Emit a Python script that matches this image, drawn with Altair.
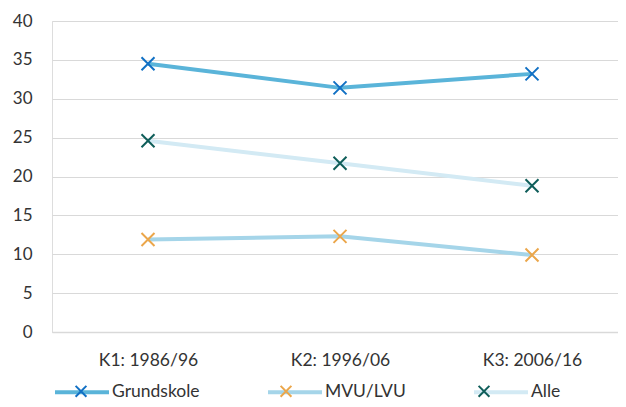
import altair as alt
import pandas as pd

categories = ["K1: 1986/96", "K2: 1996/06", "K3: 2006/16"]
series = ["Grundskole", "MVU/LVU", "Alle"]
grundskole = [34.5, 31.4, 33.2]
mvu_lvu = [11.9, 12.3, 9.9]
alle = [24.6, 21.7, 18.8]

line_colors = ["#5AB4D9", "#A5D5E9", "#D3EAF4"]
marker_colors = ["#1170C4", "#EBA64A", "#0F5E5A"]

rows = []
for name, vals in zip(series, [grundskole, mvu_lvu, alle]):
    for c, v in zip(categories, vals):
        rows.append({"Periode": c, "Serie": name, "Verdi": v})
df = pd.DataFrame(rows)

FONT = "Lato"
TXT = "#333333"
xenc = alt.X("Periode:N", sort=categories, title=None,
             scale=alt.Scale(paddingInner=0, paddingOuter=0, range=[0, 576]),
             axis=alt.Axis(labelAngle=0, labelFontSize=17.5, labelColor=TXT,
                           labelFont=FONT, domainColor="#D9D9D9", domainWidth=1.5,
                           ticks=False, labelPadding=19, grid=False))
yenc = alt.Y("Verdi:Q", title=None,
             scale=alt.Scale(domain=[0, 40]),
             axis=alt.Axis(values=list(range(0, 41, 5)), labelFontSize=17,
                           labelColor=TXT, labelFont=FONT, domain=False,
                           ticks=False, labelPadding=20, gridColor="#D9D9D9",
                           gridWidth=1.2))

SYM = 2916  # legend symbol spans sqrt(SYM) px
line_path = "M-1,0L1,0"
cross_small = "M-0.2,-0.2L0.2,0.2M-0.2,0.2L0.2,-0.2"
LX, LY = 1, 342
common_legend = dict(title=None, orient="none", direction="horizontal",
                     legendX=LX, legendY=LY, symbolSize=SYM,
                     labelFontSize=17.5, labelFont=FONT, columnPadding=60,
                     labelOffset=1, symbolOffset=0, padding=0)

lines = alt.Chart(df).mark_line(strokeWidth=4).encode(
    x=xenc, y=yenc,
    color=alt.Color("Serie:N", sort=series,
                    scale=alt.Scale(domain=series, range=line_colors),
                    legend=alt.Legend(symbolType=line_path, symbolStrokeWidth=4,
                                      labelColor=TXT, **common_legend)),
)

points = alt.Chart(df).mark_point(
    shape="M-1,-1L1,1M-1,1L1,-1", size=169, filled=False, strokeWidth=2, opacity=1
).encode(
    x=xenc, y=yenc,
    stroke=alt.Stroke("Serie:N", sort=series,
                      scale=alt.Scale(domain=series, range=marker_colors),
                      legend=alt.Legend(symbolType=cross_small, symbolStrokeWidth=2,
                                        labelColor="transparent",
                                        symbolFillColor="transparent", **common_legend)),
)

chart = alt.layer(lines, points).resolve_scale(color="independent", stroke="independent").properties(
    width=566, height=311,
    autosize=alt.AutoSizeParams(type="none"),
    padding={"left": 44, "top": 13, "right": 0, "bottom": 67},
).configure_view(stroke=None).configure(background="white")

chart.save("out.html", embed_options={"renderer": "svg", "actions": False})
